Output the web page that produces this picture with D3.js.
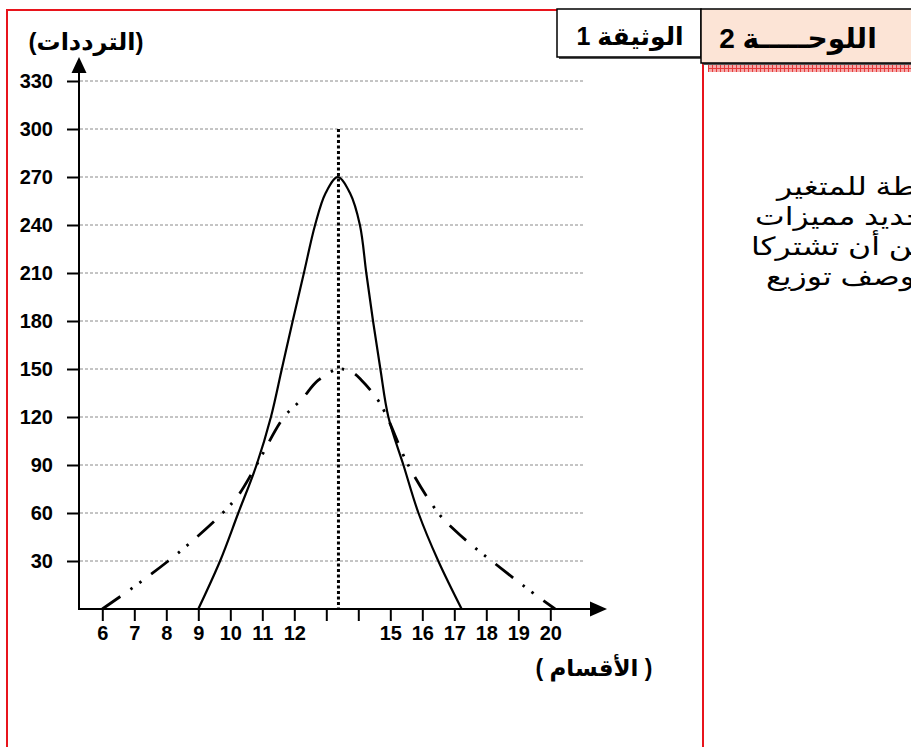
<!DOCTYPE html>
<html><head><meta charset="utf-8">
<script src="https://cdn.jsdelivr.net/npm/d3@7"></script>
<style>body{margin:0;background:#fff}svg{display:block}</style>
</head><body>
<svg id="c" width="911" height="747"></svg>
<script>
// ---- data ----
const xTicks = [6,7,8,9,10,11,12,13,14,15,16,17,18,19,20];
const xTickLabels = ["6","7","8","9","10","11","12","","","15","16","17","18","19","20"];
const yTicks = [30,60,90,120,150,180,210,240,270,300,330];
// solid curve (x = class, y = frequency)
const solidX = [9,9.68,10.25,10.82,11.27,11.61,11.95,12.3,12.65,12.98,13.36,13.74,14.05,14.25,14.46,14.69,14.94,15.41,15.88,16.5,17.23];
const solidY = [0,30,60,90,120,150,180,210,240,260,270,260,240,210,180,150,120,90,60,30,0];
// dash-dot curve
const dashX = [6,7,8.06,8.84,9.76,10.25,10.82,11.68,12.23,12.75,13.38,13.8,14.1,14.6,14.9,15.56,16.5,17.0,17.6,18.17,19.26,20.15];
const dashY = [0,14,30,43,60,71,90,120,131,143,150,148,143,131,120,90,60,49.5,39,30,13,0];
// vertical dotted line (class, top frequency)
const medianX = [13.38];
const medianTop = [300];
const yTitle = "(الترددات)";
const xTitle = "( الأقسام )";
const doc1 = "الوثيقة 1";
const board = "اللوحـــــة 2";
const sideLines = ["تمثل الوثيقة المنحنيات المبسطة للمتغير","من أجل تحديد مميزات","السلسلتين هل يمكن أن تشتركا","في وصف توزيع"];

const svg = d3.select("#c");
const FONT = "'Liberation Sans', Arial, 'DejaVu Sans', sans-serif";

const x = d3.scaleLinear().domain([6,20]).range([102.3,550.3]);
const y = d3.scaleLinear().domain([0,330]).range([609,81]);

// ---- frame ----
const defs = svg.append("defs");
const pat = defs.append("pattern").attr("id","hatch").attr("patternUnits","userSpaceOnUse")
  .attr("width",4).attr("height",4);
pat.append("rect").attr("width",4).attr("height",4).attr("fill","#f6a8a8");
pat.append("path").attr("d","M0,0.5H4M0.5,0V4").attr("stroke","#e63b3b").attr("stroke-width",1);

svg.append("line").attr("x1",6).attr("x2",558).attr("y1",10).attr("y2",10).attr("stroke","#e8141c").attr("stroke-width",2);
svg.append("line").attr("x1",7).attr("x2",7).attr("y1",9).attr("y2",747).attr("stroke","#e8141c").attr("stroke-width",2);
svg.append("line").attr("x1",703).attr("x2",703).attr("y1",62).attr("y2",747).attr("stroke","#e8141c").attr("stroke-width",2);

// header boxes with shadows
svg.append("rect").attr("x",559).attr("y",11).attr("width",144).attr("height",48).attr("fill","#555");
svg.append("rect").attr("x",557).attr("y",9).attr("width",144).attr("height",48).attr("fill","#fff").attr("stroke","#000").attr("stroke-width",1.5);
svg.append("rect").attr("x",703).attr("y",11).attr("width",215).attr("height",54).attr("fill","#555");
svg.append("rect").attr("x",701).attr("y",9).attr("width",215).attr("height",54).attr("fill","#fce4d6").attr("stroke","#000").attr("stroke-width",1.5);
svg.append("rect").attr("x",708).attr("y",65).attr("width",203).attr("height",7).attr("fill","url(#hatch)");

svg.append("text").attr("x",630).attr("y",45).attr("text-anchor","middle")
  .attr("font-family",FONT).attr("font-weight","bold").attr("font-size",25).text(doc1);
svg.append("text").attr("x",798).attr("y",48).attr("text-anchor","middle")
  .attr("font-family",FONT).attr("font-weight","bold").attr("font-size",28).text(board);

// side text (runs past the right edge, as in the reference)
const sideX = [777,755,751,766];
sideLines.forEach((t,i)=>{
  svg.append("text").attr("transform",`translate(${sideX[i]},${195+i*30}) scale(1.26,1)`)
    .attr("text-anchor","start")
    .attr("font-family",FONT).attr("font-size",25).attr("fill","#000").text(t);
});

// ---- grid ----
svg.append("g").selectAll("line").data(yTicks).join("line")
  .attr("x1",80).attr("x2",583).attr("y1",d=>y(d)).attr("y2",d=>y(d))
  .attr("stroke","#8a8a8a").attr("stroke-width",1).attr("stroke-dasharray","3,2");

// ---- axes ----
const gx = svg.append("g").attr("transform","translate(0,609)")
  .call(d3.axisBottom(x).tickValues(xTicks).tickSize(12).tickPadding(5).tickFormat((d,i)=>xTickLabels[i]));
gx.select(".domain").remove();
gx.selectAll(".tick line").attr("stroke","#000").attr("stroke-width",2);
gx.selectAll(".tick text").attr("font-family",FONT).attr("font-weight","bold").attr("font-size",20).attr("fill","#000");

const gy = svg.append("g").attr("transform","translate(79,0)")
  .call(d3.axisLeft(y).tickValues(yTicks).tickSize(12).tickPadding(14));
gy.select(".domain").remove();
gy.selectAll(".tick line").attr("stroke","#000").attr("stroke-width",2);
gy.selectAll(".tick text").attr("font-family",FONT).attr("font-weight","bold").attr("font-size",20).attr("fill","#000");

svg.append("line").attr("x1",79).attr("x2",79).attr("y1",610).attr("y2",70).attr("stroke","#000").attr("stroke-width",2);
svg.append("path").attr("d","M79,57L71.5,73L86.5,73Z").attr("fill","#000");
svg.append("line").attr("x1",78).attr("x2",592).attr("y1",609).attr("y2",609).attr("stroke","#000").attr("stroke-width",2);
svg.append("path").attr("d","M607,609L590,601.5L590,616.5Z").attr("fill","#000");

svg.append("text").attr("x",86).attr("y",50).attr("text-anchor","middle")
  .attr("font-family",FONT).attr("font-weight","bold").attr("font-size",24).text(yTitle);
svg.append("text").attr("x",594).attr("y",676).attr("text-anchor","middle")
  .attr("font-family",FONT).attr("font-weight","bold").attr("font-size",23).text(xTitle);

// ---- curves ----
const line = d3.line().x(d=>x(d[0])).y(d=>y(d[1])).curve(d3.curveCatmullRom.alpha(0.5));
svg.append("path").attr("d",line(solidX.map((v,i)=>[v,solidY[i]])))
  .attr("fill","none").attr("stroke","#000").attr("stroke-width",2.2);
svg.append("path").attr("d",line(dashX.map((v,i)=>[v,dashY[i]])))
  .attr("fill","none").attr("stroke","#000").attr("stroke-width",2.8)
  .attr("stroke-dasharray","22,12,2.5,9,2.5,12");

svg.append("line").attr("x1",x(medianX[0])).attr("x2",x(medianX[0]))
  .attr("y1",y(medianTop[0])).attr("y2",y(0))
  .attr("stroke","#000").attr("stroke-width",3).attr("stroke-dasharray","3,2.5");
</script>
</body></html>
